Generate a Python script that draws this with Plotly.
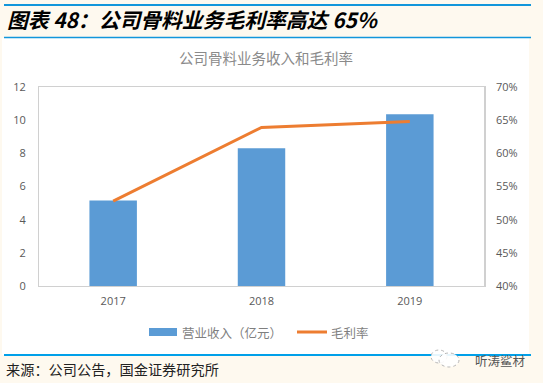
import plotly.graph_objects as go

years = ["2017", "2018", "2019"]
revenue = [5.15, 8.3, 10.35]
margin = [52.8, 63.9, 64.8]
left_ticks = [0, 2, 4, 6, 8, 10, 12]
right_ticks = [40, 45, 50, 55, 60, 65, 70]
right_labels = ["40%", "45%", "50%", "55%", "60%", "65%", "70%"]

W, H = 543, 383
L, R, T, B = 39, 484, 87, 286
CJK = "Noto Sans CJK SC"
GREY = "#7f7f7f"
BLUE = "#5B9BD5"
ORANGE = "#ED7D31"

def px(x): return (x - L) / (R - L)
def py(y): return (B - y) / (B - T)

def note(text, x, y, size, color, anchor="left", family=CJK):
    return dict(text=text, x=px(x), y=py(y), xref="paper", yref="paper", xanchor=anchor, yanchor="middle",
                showarrow=False, font=dict(family=family, size=size, color=color))

fig = go.Figure()
fig.add_bar(x=years, y=revenue, name="营业收入（亿元）", marker=dict(color=BLUE, line_width=0), width=0.32, yaxis="y", showlegend=False)
fig.add_scatter(x=years, y=margin, name="毛利率", mode="lines", line=dict(color=ORANGE, width=3), yaxis="y2", showlegend=False)

def box(x0, x1, y0, y1, color, layer="below"):
    return dict(type="rect", xref="paper", yref="paper", x0=px(x0), x1=px(x1), y0=py(y1), y1=py(y0),
                fillcolor=color, line_width=0, layer=layer)

def hline(x0, x1, y, color, width):
    return dict(type="line", xref="paper", yref="paper", x0=px(x0), x1=px(x1), y0=py(y), y1=py(y),
                line=dict(color=color, width=width))

def bubble(x0, x1, y0, y1):
    return dict(type="circle", xref="paper", yref="paper", x0=px(x0), x1=px(x1), y0=py(y1), y1=py(y0),
                fillcolor="rgba(255,255,255,0.9)", line=dict(color="#b5b5b5", width=1, dash="dot"))

shapes = [
    box(2, 529, 38, 355, "white"),
    hline(4, 531, 5, "#1296DB", 2),
    hline(4, 531, 37.5, "#1296DB", 1.5),
    hline(4, 531, 355, "#00A0E9", 2),
    box(149, 177, 328, 336, BLUE, "above"),
    hline(297, 327, 332, ORANGE, 3),
    bubble(431, 447, 350, 363),
    bubble(439, 459, 353, 367),
]

annotations = [
    note("<b><i>图表 48：公司骨料业务毛利率高达 65%</i></b>", 5, 19, 20.8, "black"),
    note("公司骨料业务收入和毛利率", 266, 58, 14.5, "#8a8a8a", "center"),
    note("营业收入（亿元）", 180, 332, 12.5, GREY),
    note("毛利率", 329, 332, 12.5, GREY),
    note("来源：公司公告，国金证券研究所", 4, 369, 14.2, "#222222"),
    note("听涛鲨材", 500, 360, 12.5, "#555555", "center"),
]

TICK = dict(size=11, color="#595959")
fig.update_layout(
    width=W, height=H, autosize=False,
    margin=dict(l=L, r=W - R, t=T, b=H - B, pad=0),
    paper_bgcolor="#FEF9EF", plot_bgcolor="rgba(0,0,0,0)",
    font=dict(family="Open Sans, Noto Sans", size=11, color="#595959"),
    shapes=shapes, annotations=annotations, showlegend=False,
    xaxis=dict(type="category", showline=True, linecolor="#d0d0d0", linewidth=1, mirror=True,
               ticks="", showgrid=False, tickfont=TICK, ticklabelstandoff=5),
    yaxis=dict(range=[0, 12], tickvals=left_ticks, showgrid=False, showline=True, linecolor="#d0d0d0",
               linewidth=1, ticks="", zeroline=False, tickfont=TICK, ticklabelstandoff=10),
    yaxis2=dict(range=[40, 70], tickvals=right_ticks, ticktext=right_labels, overlaying="y", side="right",
                showgrid=False, showline=True, linecolor="#d0d0d0", linewidth=1.5, ticks="", zeroline=False,
                tickfont=TICK, ticklabelstandoff=8),
)
fig.write_html("out.html", config={"displayModeBar": False},
               post_script="document.body.style.margin='0';document.body.style.background='#FEF9EF';")
